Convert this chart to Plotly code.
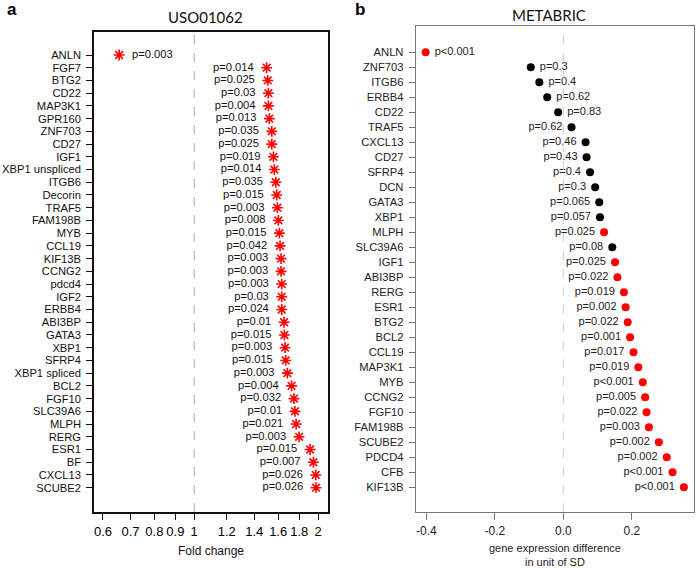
import math
import plotly.graph_objects as go

# ---------------- data: left panel (USO01062) ----------------
left_genes = ["ANLN", "FGF7", "BTG2", "CD22", "MAP3K1", "GPR160", "ZNF703", "CD27", "IGF1",
              "XBP1 unspliced", "ITGB6", "Decorin", "TRAF5", "FAM198B", "MYB", "CCL19", "KIF13B",
              "CCNG2", "pdcd4", "IGF2", "ERBB4", "ABI3BP", "GATA3", "XBP1", "SFRP4", "XBP1 spliced",
              "BCL2", "FGF10", "SLC39A6", "MLPH", "RERG", "ESR1", "BF", "CXCL13", "SCUBE2"]
left_fold = [0.657, 1.50, 1.509, 1.515, 1.515, 1.523, 1.544, 1.544, 1.558,
             1.566, 1.579, 1.587, 1.593, 1.602, 1.611, 1.617, 1.626,
             1.626, 1.632, 1.632, 1.632, 1.654, 1.657, 1.663, 1.669, 1.685,
             1.725, 1.748, 1.758, 1.769, 1.799, 1.913, 1.949, 1.975, 1.978]
left_p = ["p=0.003", "p=0.014", "p=0.025", "p=0.03", "p=0.004", "p=0.013", "p=0.035", "p=0.025", "p=0.019",
          "p=0.014", "p=0.035", "p=0.015", "p=0.003", "p=0.008", "p=0.015", "p=0.042", "p=0.003",
          "p=0.003", "p=0.003", "p=0.03", "p=0.024", "p=0.01", "p=0.015", "p=0.003", "p=0.015", "p=0.003",
          "p=0.004", "p=0.032", "p=0.01", "p=0.021", "p=0.003", "p=0.015", "p=0.007", "p=0.026", "p=0.026"]
left_ticks = [0.6, 0.7, 0.8, 0.9, 1, 1.2, 1.4, 1.6, 1.8, 2]
left_ticktext = ["0.6", "0.7", "0.8", "0.9", "1", "1.2", "1.4", "1.6", "1.8", "2"]

# ---------------- data: right panel (METABRIC) ----------------
right_genes = ["ANLN", "ZNF703", "ITGB6", "ERBB4", "CD22", "TRAF5", "CXCL13", "CD27", "SFRP4", "DCN",
               "GATA3", "XBP1", "MLPH", "SLC39A6", "IGF1", "ABI3BP", "RERG", "ESR1", "BTG2", "BCL2",
               "CCL19", "MAP3K1", "MYB", "CCNG2", "FGF10", "FAM198B", "SCUBE2", "PDCD4", "CFB", "KIF13B"]
right_diff = [-0.402, -0.095, -0.070, -0.047, -0.015, 0.024, 0.065, 0.068, 0.078, 0.093,
              0.105, 0.107, 0.119, 0.143, 0.151, 0.158, 0.177, 0.182, 0.188, 0.195,
              0.205, 0.219, 0.232, 0.239, 0.243, 0.250, 0.279, 0.302, 0.319, 0.352]
right_p = ["p<0.001", "p=0.3", "p=0.4", "p=0.62", "p=0.83", "p=0.62", "p=0.46", "p=0.43", "p=0.4", "p=0.3",
           "p=0.065", "p=0.057", "p=0.025", "p=0.08", "p=0.025", "p=0.022", "p=0.019", "p=0.002", "p=0.022", "p=0.001",
           "p=0.017", "p=0.019", "p<0.001", "p=0.005", "p=0.022", "p=0.003", "p=0.002", "p=0.002", "p<0.001", "p<0.001"]
right_sig = [True, False, False, False, False, False, False, False, False, False,
             False, False, True, False, True, True, True, True, True, True,
             True, True, True, True, True, True, True, True, True, True]
right_ticks = [-0.4, -0.2, 0.0, 0.2]
right_ticktext = ["-0.4", "-0.2", "0.0", "0.2"]

FONT = "Liberation Sans, Arial, sans-serif"
NB = "\u00a0"

fig = go.Figure()

# left panel
left_idx = list(range(len(left_genes)))
left_pos = ["middle right" if i == 0 else "middle left" for i in left_idx]
left_txt = [(NB * 2 + t) if i == 0 else (t + NB * 2) for i, t in enumerate(left_p)]
fig.add_trace(go.Scatter(
    x=left_fold, y=left_idx, xaxis="x", yaxis="y",
    mode="markers+text", text=left_txt, textposition=left_pos,
    textfont=dict(family=FONT, size=11.2, color="#111"),
    marker=dict(symbol="asterisk-open", size=9, color="red", line=dict(color="red", width=1.6)),
    cliponaxis=False, showlegend=False, hoverinfo="skip"))

# right panel
right_idx = list(range(len(right_genes)))
right_pos = ["middle right" if v < 0 else "middle left" for v in right_diff]
right_txt = [(NB + t) if v < 0 else (t + NB) for v, t in zip(right_diff, right_p)]
right_col = ["#ff0000" if s else "#000000" for s in right_sig]
fig.add_trace(go.Scatter(
    x=right_diff, y=right_idx, xaxis="x2", yaxis="y2",
    mode="markers+text", text=right_txt, textposition=right_pos,
    textfont=dict(family=FONT, size=11, color="#222"),
    marker=dict(symbol="circle", size=8, color=right_col),
    cliponaxis=False, showlegend=False, hoverinfo="skip"))

fig.update_layout(
    width=697, height=568,
    margin=dict(l=0, r=0, t=0, b=0, autoexpand=False),
    paper_bgcolor="white", plot_bgcolor="white",
    font=dict(family=FONT, size=12, color="#111"),
    xaxis=dict(domain=[94/697, 328/697], type="log",
               range=[math.log10(0.5706), math.log10(2.115)],
               tickvals=left_ticks, ticktext=left_ticktext,
               ticks="outside", ticklen=6, tickcolor="#111", tickwidth=1,
               tickfont=dict(family=FONT, size=13, color="#000"),
               ticklabelstandoff=1, automargin=False,
               showline=True, linecolor="#111", linewidth=1.5, mirror=True,
               showgrid=False, zeroline=False, anchor="y"),
    yaxis=dict(domain=[1-512/568, 1-32/568],
               range=[35.91, -1.807],
               tickvals=left_idx, ticktext=left_genes,
               ticks="outside", ticklen=6, tickcolor="#111", automargin=False,
               ticklabelstandoff=3,
               tickfont=dict(family=FONT, size=11.2, color="#111"),
               showline=True, linecolor="#111", linewidth=1.5, mirror=True,
               showgrid=False, zeroline=False, anchor="x"),
    xaxis2=dict(domain=[415.7/697, 694.3/697],
                range=[-0.431, 0.3825],
                tickvals=right_ticks, ticktext=right_ticktext,
                ticks="outside", ticklen=7, tickcolor="#777",
                tickfont=dict(family=FONT, size=12, color="#222"),
                ticklabelstandoff=1, automargin=False,
                showline=True, linecolor="#777", linewidth=1, mirror=True,
                showgrid=False, zeroline=False, anchor="y2"),
    yaxis2=dict(domain=[1-512/568, 1-26/568],
                range=[30.65, -1.753],
                tickvals=right_idx, ticktext=right_genes,
                ticks="outside", ticklen=6, tickcolor="#777", automargin=False,
                ticklabelstandoff=3,
                tickfont=dict(family=FONT, size=11.2, color="#222"),
                showline=True, linecolor="#777", linewidth=1, mirror=True,
                showgrid=False, zeroline=False, anchor="x2"),
    shapes=[
        dict(type="line", xref="x", yref="paper", x0=1, x1=1,
             y0=1-512/568, y1=1-32/568, line=dict(color="#aaa", width=1, dash="dash")),
        dict(type="line", xref="x2", yref="paper", x0=0, x1=0,
             y0=1-512/568, y1=1-26/568, line=dict(color="#ccc", width=1, dash="dash")),
    ],
    annotations=[
        dict(text="<b>a</b>", x=5/697, y=1-10/568, xref="paper", yref="paper",
             showarrow=False, xanchor="left", yanchor="middle",
             font=dict(family=FONT, size=17, color="#000")),
        dict(text="<b>b</b>", x=353/697, y=1-10/568, xref="paper", yref="paper",
             showarrow=False, xanchor="left", yanchor="middle",
             font=dict(family=FONT, size=17, color="#000")),
        dict(text="USO01062", x=205/697, y=1-17/568, xref="paper", yref="paper",
             showarrow=False, xanchor="center", yanchor="middle",
             font=dict(family="Lato, sans-serif", size=15, color="#111")),
        dict(text="METABRIC", x=549/697, y=1-15/568, xref="paper", yref="paper",
             showarrow=False, xanchor="center", yanchor="middle",
             font=dict(family="Lato, sans-serif", size=15, color="#111")),
        dict(text="Fold change", x=211/697, y=1-551/568, xref="paper", yref="paper",
             showarrow=False, xanchor="center", yanchor="middle",
             font=dict(family=FONT, size=12, color="#111")),
        dict(text="gene expression difference<br>in unit of SD", x=555/697, y=1-555/568,
             xref="paper", yref="paper", showarrow=False, xanchor="center", yanchor="middle",
             font=dict(family=FONT, size=11, color="#222")),
    ],
)

fig.write_html("out.html", config={"displayModeBar": False},
               post_script="document.body.style.margin='0';document.body.style.overflow='hidden';")
